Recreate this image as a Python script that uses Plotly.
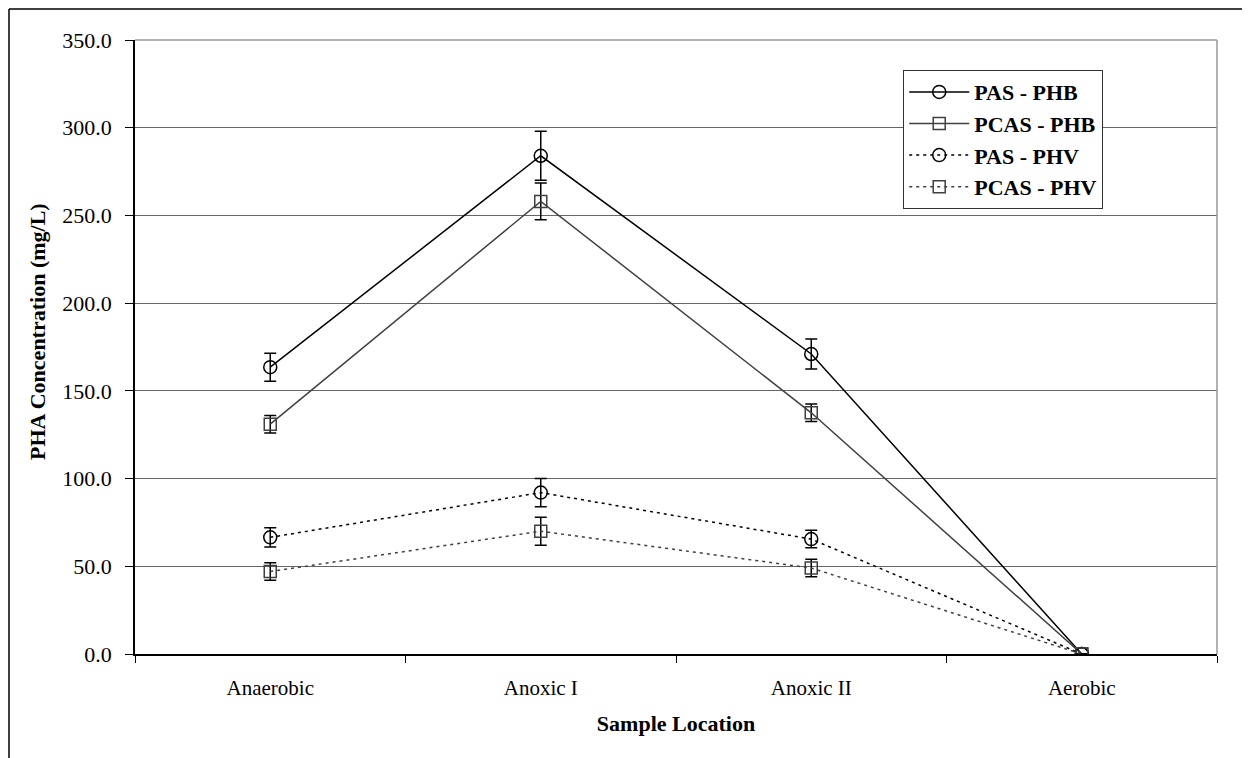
import plotly.graph_objects as go

categories = ["Anaerobic", "Anoxic I", "Anoxic II", "Aerobic"]
pas_phb = [163.5, 284.0, 171.0, 0.0]
pas_phb_err = [8.0, 14.0, 8.5, 0.0]
pcas_phb = [131.0, 258.0, 137.5, 0.0]
pcas_phb_err = [5.0, 10.5, 5.0, 0.0]
pas_phv = [66.5, 92.0, 65.5, 0.0]
pas_phv_err = [5.5, 8.0, 5.0, 0.0]
pcas_phv = [47.0, 70.0, 49.0, 0.0]
pcas_phv_err = [5.0, 8.0, 5.0, 0.0]
y_ticks = [0, 50, 100, 150, 200, 250, 300, 350]

FONT = "Liberation Serif, Times New Roman, serif"

series = [
    ("PAS - PHB", pas_phb, pas_phb_err, "#000000", "solid", "circle-open", 13),
    ("PCAS - PHB", pcas_phb, pcas_phb_err, "#404040", "solid", "square-open", 12),
    ("PAS - PHV", pas_phv, pas_phv_err, "#000000", "3px,4px", "circle-open", 13),
    ("PCAS - PHV", pcas_phv, pcas_phv_err, "#404040", "3px,4px", "square-open", 12),
]

fig = go.Figure()
for name, vals, errs, color, dash, sym, size in series:
    fig.add_trace(go.Scatter(
        x=categories, y=vals, name=name, mode="lines+markers",
        line=dict(color=color, width=1.5, dash=dash),
        marker=dict(symbol=sym, size=size, color=color, line=dict(width=1.5, color=color)),
        error_y=dict(type="data", array=errs, visible=True, color="#000000", thickness=1.5, width=6),
    ))

# page is offset by the 8px body margin, so the figure is sized to fill the remaining area
W, H = 1242, 750
L, R, T, B = 127, 33, 32, 104
pw = W - L - R
ph = H - T - B

fig.update_layout(
    width=W, height=H,
    margin=dict(l=L, r=R, t=T, b=B),
    paper_bgcolor="white", plot_bgcolor="white",
    font=dict(family=FONT, size=20, color="black"),
    showlegend=True,
    legend=dict(
        x=0.71, y=0.951, xanchor="left", yanchor="top",
        bgcolor="white", bordercolor="#333333", borderwidth=1,
        font=dict(family=FONT, size=22, color="black", weight="bold"),
        tracegroupgap=0, itemwidth=60,
    ),
    xaxis=dict(
        type="category", range=[-0.5, 3.5],
        showline=True, linecolor="black", linewidth=1.5,
        ticks="outside", tickson="boundaries", ticklen=7, tickcolor="black",
        showgrid=False,
        tickfont=dict(family=FONT, size=21),
        ticklabelstandoff=14,
        title=dict(text="<b>Sample Location</b>", font=dict(family=FONT, size=22), standoff=17),
    ),
    yaxis=dict(
        range=[0, 350], tickvals=y_ticks, ticktext=[f"{v:.1f}" for v in y_ticks],
        showline=True, linecolor="black", linewidth=1.5,
        ticks="outside", ticklen=8, tickcolor="black",
        showgrid=True, gridcolor="#666666", gridwidth=1,
        zeroline=False,
        tickfont=dict(family=FONT, size=22),
        ticklabelstandoff=9,
    ),
)

# y-axis title, placed where the reference shows it
fig.add_annotation(
    text="<b>PHA Concentration (mg/L)</b>", textangle=-90,
    xref="paper", yref="paper",
    x=(37 - 8 - L) / pw, y=(ph - (332 - 8 - T)) / ph,
    xanchor="center", yanchor="middle", showarrow=False,
    font=dict(family=FONT, size=22, color="black"),
)

# plot frame (top and right) in grey
fig.add_shape(type="line", xref="paper", yref="paper", x0=0, x1=1, y0=1, y1=1,
              line=dict(color="#999999", width=1.5))
fig.add_shape(type="line", xref="paper", yref="paper", x0=1, x1=1, y0=0, y1=1,
              line=dict(color="#999999", width=1.5))

# outer chart border (top and left)
lx = (1 - L) / pw
ty = (T + ph - 1) / ph
rx = (W - L) / pw
by = -B / ph
fig.add_shape(type="line", xref="paper", yref="paper", x0=lx, x1=rx, y0=ty, y1=ty,
              line=dict(color="black", width=1.5))
fig.add_shape(type="line", xref="paper", yref="paper", x0=lx, x1=lx, y0=by, y1=ty,
              line=dict(color="black", width=1.5))

fig.write_html("out.html")
